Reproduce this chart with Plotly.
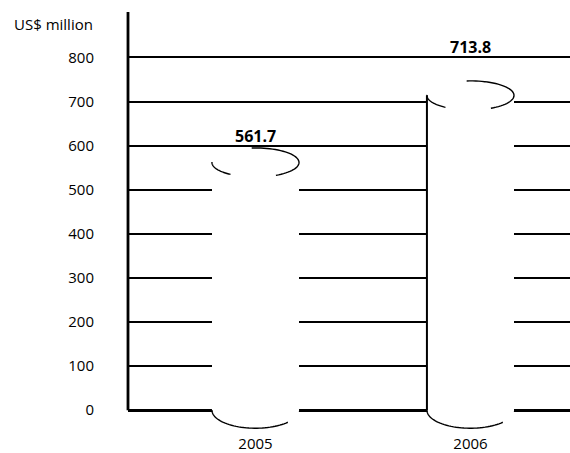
import numpy as np
import plotly.graph_objects as go

# ---- data ----
years = ["2005", "2006"]
values = [561.7, 713.8]
y_ticks = [0, 100, 200, 300, 400, 500, 600, 700, 800]
y_title = "US$ million"

# ---- styling ----
BAR_W = 0.405          # bar width in category units
CAP_B = 33             # half height of the top ellipse (axis units)
BASE_B = 41            # half height of the bottom ellipse (axis units)
label_yshift = [26, 48]
show_left_edge = [False, True]
FONT = "Open Sans"
INK = "#000000"

xs = list(range(len(years)))

fig = go.Figure()
fig.add_trace(go.Bar(
    x=xs, y=values, width=BAR_W,
    marker=dict(color="white", line=dict(width=0)),
    hoverinfo="skip", showlegend=False,
))


def arc(cx, cy, a, b, t0, t1, n=40):
    t = np.radians(np.linspace(t0, t1, n))
    return cx + a * np.cos(t), cy + b * np.sin(t)


def path_from(px, py, close=False):
    s = "M " + " L ".join(f"{x:.5f},{y:.3f}" for x, y in zip(px, py))
    return s + (" Z" if close else "")


shapes = []
half = BAR_W / 2
for i, v in zip(xs, values):
    # white cap of the cylinder
    shapes.append(dict(type="circle", xref="x", yref="y",
                       x0=i - half, x1=i + half, y0=v - CAP_B, y1=v + CAP_B,
                       fillcolor="white", line=dict(width=0), layer="above"))
    # white base below zero
    bx, by = arc(i, 0, half, BASE_B, 180, 360)
    bx = np.concatenate([bx, [i + half, i - half]])
    by = np.concatenate([by, [4, 4]])
    shapes.append(dict(type="path", xref="x", yref="y", path=path_from(bx, by, True),
                       fillcolor="white", line=dict(width=0), layer="above"))
    # visible outline pieces
    for (t0, t1, cy, b) in [(95, -62, v, CAP_B), (178, 235, v, CAP_B), (180, 318, 0, BASE_B)]:
        ax_, ay_ = arc(i, cy, half, b, t0, t1)
        shapes.append(dict(type="path", xref="x", yref="y", path=path_from(ax_, ay_),
                           line=dict(color=INK, width=1.4), layer="above"))
    if show_left_edge[i]:
        shapes.append(dict(type="line", xref="x", yref="y",
                           x0=i - half, x1=i - half, y0=0, y1=v,
                           line=dict(color=INK, width=2), layer="above"))

Y_MAX = 903
Y_MIN = -45
# y axis line from zero to the top
shapes.append(dict(type="line", xref="paper", yref="y", x0=0, x1=0, y0=0, y1=Y_MAX,
                   line=dict(color=INK, width=2.8), layer="above"))

annotations = []
for i, v in zip(xs, values):
    annotations.append(dict(x=i, y=v, xref="x", yref="y", text=f"<b>{v:.1f}</b>",
                            showarrow=False, yshift=label_yshift[i], yanchor="middle",
                            font=dict(family=FONT, size=16, color=INK)))
annotations.append(dict(x=-0.0747, y=0.971, xref="paper", yref="paper", text=y_title,
                        showarrow=False, xanchor="right", yanchor="middle",
                        font=dict(family=FONT, size=15, color=INK)))

fig.update_layout(
    width=570, height=453,
    margin=dict(l=128, r=0, t=12, b=20),
    paper_bgcolor="white", plot_bgcolor="white",
    font=dict(family=FONT, size=15, color=INK),
    bargap=0,
    xaxis=dict(range=[-0.593, 1.463], tickvals=xs, ticktext=years,
               showgrid=False, zeroline=False, showline=False, ticks="",
               ticklabelstandoff=3, fixedrange=True),
    yaxis=dict(range=[Y_MIN, Y_MAX], tickvals=y_ticks,
               showgrid=True, gridcolor=INK, gridwidth=1.5,
               zeroline=True, zerolinecolor=INK, zerolinewidth=2.5,
               showline=False, ticks="", ticklabelstandoff=33, fixedrange=True),
    shapes=shapes,
    annotations=annotations,
)

fig.write_html("out.html")
